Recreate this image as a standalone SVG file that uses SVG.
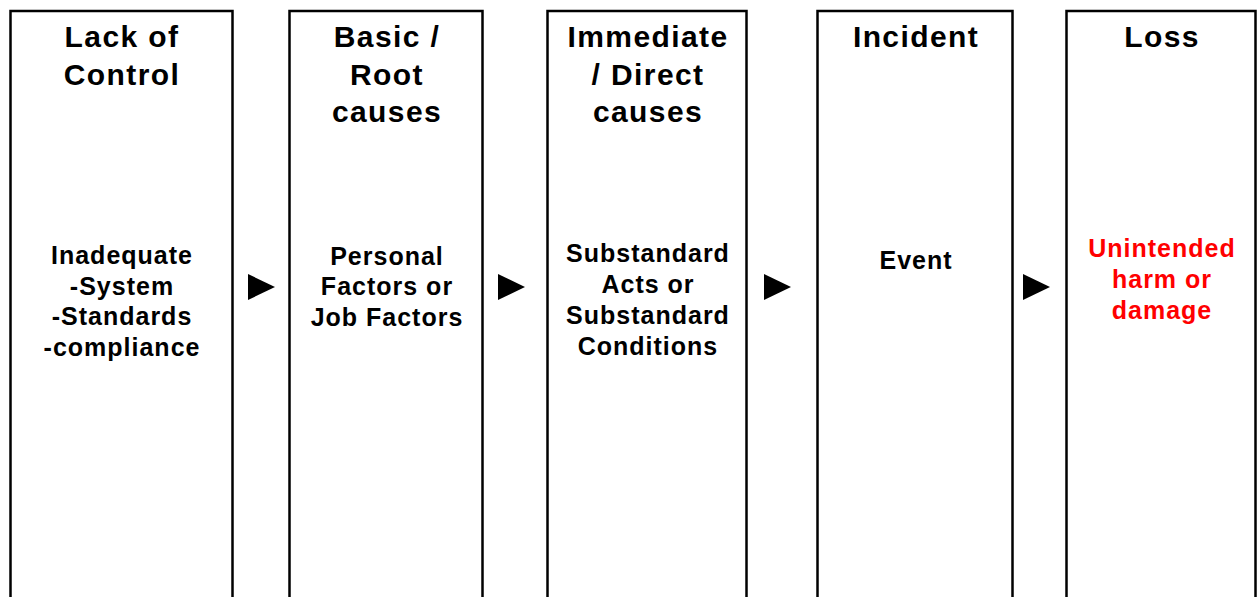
<svg xmlns="http://www.w3.org/2000/svg" width="1258" height="597" viewBox="0 0 1258 597">
<style>
.box{fill:#fff;stroke:#000;stroke-width:2.5}
.t{font-family:"Liberation Sans",Arial,sans-serif;font-weight:bold;font-size:30px;letter-spacing:1.4px;text-anchor:middle;fill:#000}
.b{font-family:"Liberation Sans",Arial,sans-serif;font-weight:bold;font-size:25px;letter-spacing:1px;text-anchor:middle;fill:#000}
.red{fill:#ff0000}
.arr{fill:#000}
</style>
<rect width="1258" height="597" fill="#fff"/>
<g id="node-lack">
<rect class="box" x="10.5" y="11" width="222" height="600"/>
<text class="t" x="122" y="47">Lack of</text>
<text class="t" x="122" y="85">Control</text>
<text class="b" x="122" y="264">Inadequate</text>
<text class="b" x="122" y="295">-System</text>
<text class="b" x="122" y="325">-Standards</text>
<text class="b" x="122" y="356">-compliance</text>
</g>
<g id="node-basic">
<rect class="box" x="289.5" y="11" width="193" height="600"/>
<text class="t" x="387" y="47">Basic /</text>
<text class="t" x="387" y="85">Root</text>
<text class="t" x="387" y="122">causes</text>
<text class="b" x="387" y="265">Personal</text>
<text class="b" x="387" y="295">Factors or</text>
<text class="b" x="387" y="326">Job Factors</text>
</g>
<g id="node-immediate">
<rect class="box" x="547.5" y="11" width="199" height="600"/>
<text class="t" x="648" y="47">Immediate</text>
<text class="t" x="648" y="85">/ Direct</text>
<text class="t" x="648" y="122">causes</text>
<text class="b" x="648" y="262">Substandard</text>
<text class="b" x="648" y="293">Acts or</text>
<text class="b" x="648" y="324">Substandard</text>
<text class="b" x="648" y="355">Conditions</text>
</g>
<g id="node-incident">
<rect class="box" x="817.5" y="11" width="195" height="600"/>
<text class="t" x="916" y="47">Incident</text>
<text class="b" x="916" y="269">Event</text>
</g>
<g id="node-loss">
<rect class="box" x="1066.5" y="11" width="189" height="600"/>
<text class="t" x="1162" y="47">Loss</text>
<text class="b red" x="1162" y="257">Unintended</text>
<text class="b red" x="1162" y="288">harm or</text>
<text class="b red" x="1162" y="319">damage</text>
</g>
<g id="connectors">
<polygon class="arr" points="248,274 275,287 248,300"/>
<polygon class="arr" points="498,274 525,287 498,300"/>
<polygon class="arr" points="764,274 791,287 764,300"/>
<polygon class="arr" points="1023,274 1050,287 1023,300"/>
</g>
</svg>
